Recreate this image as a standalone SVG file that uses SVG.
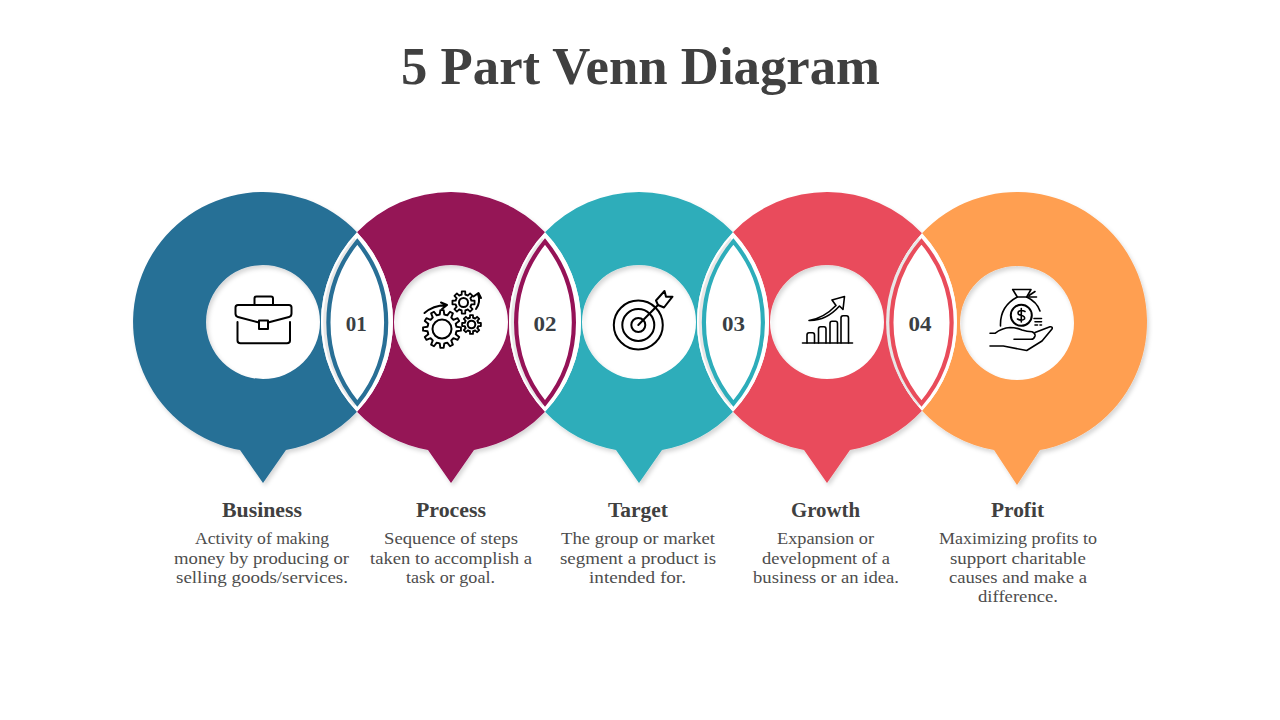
<svg xmlns="http://www.w3.org/2000/svg" xmlns:xlink="http://www.w3.org/1999/xlink" width="1280" height="720" viewBox="0 0 1280 720">
<style>
text{font-family:"Liberation Serif","DejaVu Serif",serif;text-anchor:middle}
.title{font-size:52px;font-weight:700;fill:#404040}
.h{font-size:20px;font-weight:700;fill:#404040}
.b{font-size:17px;fill:#4d4d4d}
.n{font-size:21px;font-weight:700;fill:#3a3f44}
.s{fill-rule:evenodd;filter:url(#sh)}
.ic,.ic path,.ic circle,.ic rect{fill:none;stroke:#000;stroke-width:2;stroke-linecap:round;stroke-linejoin:round}
.thin path{stroke-width:1.6}
.lens{fill:#fff;stroke-width:4.200;stroke-miterlimit:12}
.gap{fill:#fff}
.band{fill:#e8e8e8}
</style>
<defs>
<filter id="sh" x="-10%" y="-10%" width="125%" height="125%"><feDropShadow dx="2" dy="3" stdDeviation="2" flood-color="#000" flood-opacity=".16"/></filter>
<path id="t12" d="M-1.99 -7.44L-1.2 -7.61L-.87 -9.96L.87 -9.96L1.2 -7.61L1.99 -7.44"/>
<path id="t8" d="M-2.76 -6.65L-1.62 -7.02L-1.56 -9.88L1.56 -9.88L1.62 -7.02L2.76 -6.65"/>
<g id="gear12"><use xlink:href="#t12"/><use xlink:href="#t12" transform="rotate(30)"/><use xlink:href="#t12" transform="rotate(60)"/><use xlink:href="#t12" transform="rotate(90)"/><use xlink:href="#t12" transform="rotate(120)"/><use xlink:href="#t12" transform="rotate(150)"/><use xlink:href="#t12" transform="rotate(180)"/><use xlink:href="#t12" transform="rotate(210)"/><use xlink:href="#t12" transform="rotate(240)"/><use xlink:href="#t12" transform="rotate(270)"/><use xlink:href="#t12" transform="rotate(300)"/><use xlink:href="#t12" transform="rotate(330)"/></g>
<g id="gear8"><use xlink:href="#t8"/><use xlink:href="#t8" transform="rotate(45)"/><use xlink:href="#t8" transform="rotate(90)"/><use xlink:href="#t8" transform="rotate(135)"/><use xlink:href="#t8" transform="rotate(180)"/><use xlink:href="#t8" transform="rotate(225)"/><use xlink:href="#t8" transform="rotate(270)"/><use xlink:href="#t8" transform="rotate(315)"/></g>
</defs>
<rect width="1280" height="720" fill="#fff"/>
<text class="title" x="640.5" y="84" textLength="479" lengthAdjust="spacingAndGlyphs">5 Part Venn Diagram</text>

<g id="node-business">
<path class="s" fill="#286f96" d="M357 232.2A130 130 0 1 0 240 450L263 483L286 450A130 130 0 0 0 357 411.8A130 130 0 0 1 357 232.2ZM206 322a57 57 0 1 0 114 0a57 57 0 1 0 -114 0Z"/>
<g class="ic">
<path d="M254.500 304.500V298.500Q254.500 296.500 256.500 296.500H271Q273 296.500 273 298.500V304.500"/>
<path d="M259 322.500L238 317Q235.500 316.300 235.500 313.500V307.500Q235.500 305 238 305H289Q291.500 305 291.500 307.500V313.500Q291.500 316.300 289 317L268 322.500"/>
<rect x="259" y="320.500" width="9" height="8.500"/>
<path d="M237.500 322V340.500Q237.500 343.300 240.500 343.300H287Q290 343.300 290 340.500V322"/>
</g>
<text class="h" x="262" y="517" textLength="80" lengthAdjust="spacingAndGlyphs">Business</text>
<text class="b" x="262" y="544" textLength="134" lengthAdjust="spacingAndGlyphs">Activity of making</text>
<text class="b" x="261.500" y="564" textLength="175" lengthAdjust="spacingAndGlyphs">money by producing or</text>
<text class="b" x="262" y="583" textLength="172" lengthAdjust="spacingAndGlyphs">selling goods/services.</text>
</g>

<g id="node-process">
<path class="s" fill="#951257" d="M357 232.2A130 130 0 0 1 545 232.2A130 130 0 0 0 545 411.8A130 130 0 0 1 474 450L451 483L428 450A130 130 0 0 1 357 411.8A130 130 0 0 0 357 232.2ZM394 322a57 57 0 1 0 114 0a57 57 0 1 0 -114 0Z"/>
<g class="ic">
<use xlink:href="#gear12" transform="translate(442 329) scale(1.9)" style="stroke-width:1"/>
<circle cx="442" cy="329" r="9.500"/>
<use xlink:href="#gear8" transform="translate(463.500 302.500) scale(1.12)" style="stroke-width:1.6"/>
<circle cx="463.500" cy="302.500" r="4.500"/>
<use xlink:href="#gear8" transform="translate(471.500 324.500) scale(.95)" style="stroke-width:1.9"/>
<circle cx="471.500" cy="324.500" r="3.800"/>
<path d="M424.500 313Q433 305.500 446 305M441 302.500L447 305L442 309"/>
<path d="M476 309Q481 302 478 294M473.500 296.500L478.500 293L481 298"/>
</g>
<text class="h" x="451" y="517" textLength="70" lengthAdjust="spacingAndGlyphs">Process</text>
<text class="b" x="451" y="544" textLength="134" lengthAdjust="spacingAndGlyphs">Sequence of steps</text>
<text class="b" x="451" y="564" textLength="162" lengthAdjust="spacingAndGlyphs">taken to accomplish a</text>
<text class="b" x="450.500" y="583" textLength="89" lengthAdjust="spacingAndGlyphs">task or goal.</text>
</g>

<g id="node-target">
<path class="s" fill="#2dadba" d="M545 232.200A130 130 0 0 1 733 232.200A130 130 0 0 0 733 411.800A130 130 0 0 1 662 450L639 483L616 450A130 130 0 0 1 545 411.800A130 130 0 0 0 545 232.200ZM582 322a57 57 0 1 0 114 0a57 57 0 1 0 -114 0Z"/>
<g class="ic">
<circle cx="638.300" cy="325" r="24.500"/>
<circle cx="638.300" cy="325" r="16"/>
<circle cx="638.300" cy="325" r="7"/>
<path d="M638.300 325L658 305"/>
<path d="M656 300.500L664.500 291L666 296.700L672.500 296.700L664 307.500L658 305Z"/>
</g>
<text class="h" x="638" y="517" textLength="60" lengthAdjust="spacingAndGlyphs">Target</text>
<text class="b" x="638" y="544" textLength="154" lengthAdjust="spacingAndGlyphs">The group or market</text>
<text class="b" x="638" y="564" textLength="156" lengthAdjust="spacingAndGlyphs">segment a product is</text>
<text class="b" x="637.500" y="583" textLength="97" lengthAdjust="spacingAndGlyphs">intended for.</text>
</g>

<g id="node-growth">
<path class="s" fill="#e94c5b" d="M733 232.200A130 130 0 0 1 922 233.300A130 130 0 0 0 922 410.700A130 130 0 0 1 850 450L827 483L804 450A130 130 0 0 1 733 411.800A130 130 0 0 0 733 232.200ZM770 322a57 57 0 1 0 114 0a57 57 0 1 0 -114 0Z"/>
<g class="ic thin">
<path d="M802.500 343H852.500"/>
<path d="M807 343V335Q807 332.700 809 332.700H812.500Q814.500 332.700 814.500 335V343"/>
<path d="M818.500 343V329Q818.500 326.700 820.500 326.700H824Q826 326.700 826 329V343"/>
<path d="M830 343V323.500Q830 321.300 832 321.300H835.500Q837.500 321.300 837.500 323.500V343"/>
<path d="M841 343V318Q841 315.700 843 315.700H846.500Q848.500 315.700 848.500 318V343"/>
<path d="M809 320.500Q824 318 836 305.500L832 300L844.500 296.500L843 309.500L839.500 306Q826 321 809 320.500Z"/>
</g>
<text class="h" x="825.500" y="517" textLength="69" lengthAdjust="spacingAndGlyphs">Growth</text>
<text class="b" x="825.500" y="544" textLength="97" lengthAdjust="spacingAndGlyphs">Expansion or</text>
<text class="b" x="826" y="564" textLength="128" lengthAdjust="spacingAndGlyphs">development of a</text>
<text class="b" x="826" y="583" textLength="146" lengthAdjust="spacingAndGlyphs">business or an idea.</text>
</g>

<g id="node-profit">
<path class="s" fill="#ff9f51" d="M922 233.300A130 130 0 1 1 1040 450L1017 485L994 450A130 130 0 0 1 922 410.700A130 130 0 0 0 922 233.300ZM960 323a57 57 0 1 0 114 0a57 57 0 1 0 -114 0Z"/>
<g class="ic thin">
<path d="M1012.700 289.500H1031L1026.700 297H1017.300Z"/>
<path d="M1026.700 297H1036.500M1029 295.500L1035 291.500"/>
<path d="M1017.300 297C1006 303 1000 313 1000.500 326"/>
<path d="M1026.700 297C1033 300 1038 305 1040 311"/>
<circle cx="1021.300" cy="315.300" r="10.500"/>
<path d="M1025 311.500Q1021.500 309.500 1018.500 311.500Q1016.800 314.500 1021 315.300Q1025.500 316.200 1024.500 319Q1021.500 321.500 1017.500 319M1021.300 308.500V322"/>
<path d="M1034 318.500H1041.500M1035 321.700H1041.500M1035 325H1037.500M1040 325H1041.500"/>
<path d="M990 333.300H995Q1002 328 1010 327.500Q1016 327.500 1022 330Q1027 331.700 1032 331.700Q1035.500 333 1035 336Q1034 339.300 1031 339.300H1014"/>
<path d="M1035 332.500L1050 326.700Q1053 326.500 1052 329L1042 341L1026.700 350.500L1003.300 346H990"/>
</g>
<text class="h" x="1017.500" y="517" textLength="53" lengthAdjust="spacingAndGlyphs">Profit</text>
<text class="b" x="1018" y="544" textLength="158" lengthAdjust="spacingAndGlyphs">Maximizing profits to</text>
<text class="b" x="1018" y="564" textLength="136" lengthAdjust="spacingAndGlyphs">support charitable</text>
<text class="b" x="1018" y="583" textLength="138" lengthAdjust="spacingAndGlyphs">causes and make a</text>
<text class="b" x="1018" y="602" textLength="80" lengthAdjust="spacingAndGlyphs">difference.</text>
</g>

<g id="connectors">
<g id="overlap-01">
<path class="gap" d="M357 232.200A130 130 0 0 1 357 411.800A130 130 0 0 1 357 232.200Z"/>
<path class="band" transform="translate(-3 0)" d="M357.300 238A129 129 0 0 1 357.300 406A129 129 0 0 1 357.300 238Z"/>
<path class="lens" stroke="#286f96" d="M357.300 241.500A128 128 0 0 1 357.300 403.500A128 128 0 0 1 357.300 241.500Z"/>
<text class="n" x="356.200" y="331" textLength="21" lengthAdjust="spacingAndGlyphs">01</text></g>
<g id="overlap-02">
<path class="gap" d="M545 232.200A130 130 0 0 1 545 411.800A130 130 0 0 1 545 232.200Z"/>
<path class="band" transform="translate(-3 0)" d="M545 238A129 129 0 0 1 545 406A129 129 0 0 1 545 238Z"/>
<path class="lens" stroke="#951257" d="M545 241.500A128 128 0 0 1 545 403.500A128 128 0 0 1 545 241.500Z"/>
<text class="n" x="545" y="331" textLength="23" lengthAdjust="spacingAndGlyphs">02</text></g>
<g id="overlap-03">
<path class="gap" d="M733 232.200A130 130 0 0 1 733 411.800A130 130 0 0 1 733 232.200Z"/>
<path class="band" transform="translate(-3 0)" d="M733.400 238A127 127 0 0 1 733.400 406A127 127 0 0 1 733.400 238Z"/>
<path class="lens" stroke="#2dadba" d="M733.400 241.500A126 126 0 0 1 733.400 403.500A126 126 0 0 1 733.400 241.500Z"/>
<text class="n" x="733.500" y="331" textLength="23" lengthAdjust="spacingAndGlyphs">03</text></g>
<g id="overlap-04">
<path class="gap" d="M922 233.300A130 130 0 0 1 922 410.700A130 130 0 0 1 922 233.300Z"/>
<path class="band" transform="translate(-3 0)" d="M921.500 238A125 125 0 0 1 921.500 406A125 125 0 0 1 921.500 238Z"/>
<path class="lens" stroke="#e94c5b" d="M921.500 241.500A124 124 0 0 1 921.500 403.500A124 124 0 0 1 921.500 241.500Z"/>
<text class="n" x="920" y="331" textLength="23" lengthAdjust="spacingAndGlyphs">04</text></g>
</g>
</svg>
